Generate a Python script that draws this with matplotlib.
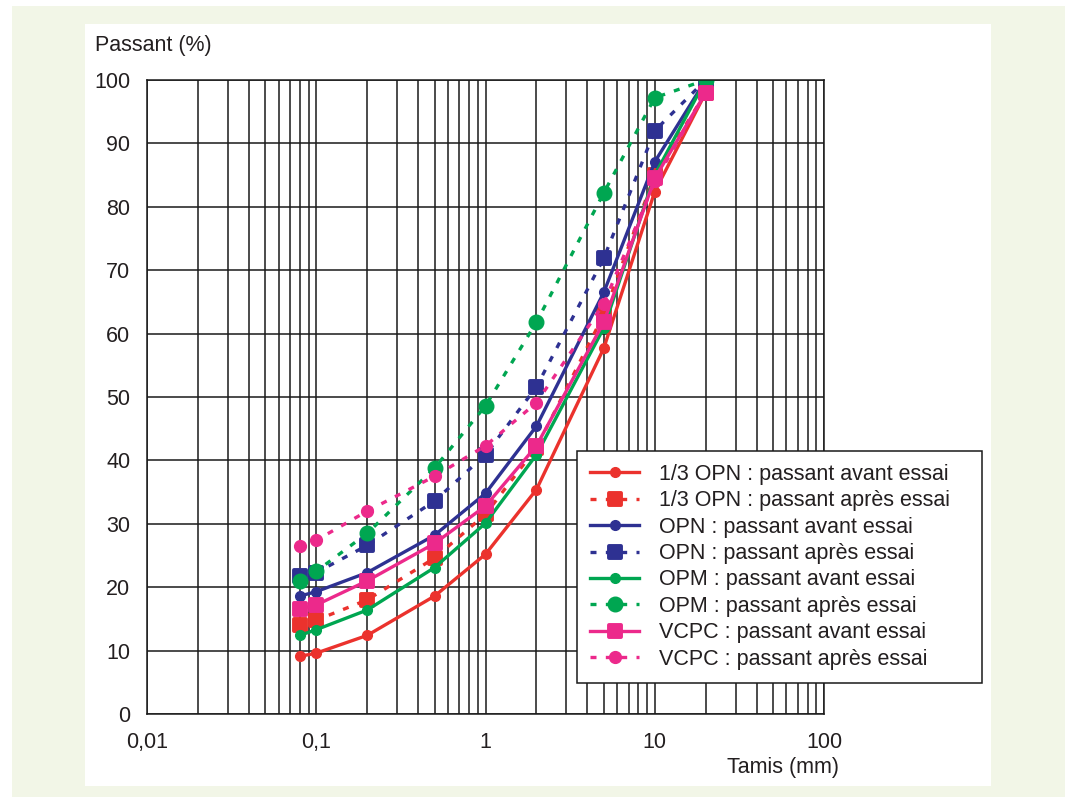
import matplotlib
matplotlib.use("Agg")
import matplotlib.pyplot as plt
from matplotlib.markers import MarkerStyle
from matplotlib.patches import Rectangle
from matplotlib.ticker import FixedLocator, LogLocator, NullFormatter

plt.rcParams["font.family"] = ["Liberation Sans", "DejaVu Sans"]
TXT = "#231f20"
FS = 15.5

# sieve sizes (mm)
tamis = [0.08, 0.1, 0.2, 0.5, 1, 2, 5, 10, 20]

opn13_avant = [9.1, 9.6, 12.4, 18.6, 25.2, 35.4, 57.7, 82.4, 98.0]
opn13_apres = [14.0, 14.8, 18.0, 24.6, 31.5, 42.0, 63.0, 85.0, 98.0]
opn_avant = [18.6, 19.3, 22.3, 28.2, 34.8, 45.4, 66.5, 87.1, 100.0]
opn_apres = [21.8, 22.3, 26.6, 33.6, 40.9, 51.6, 71.9, 92.0, 100.0]
opm_avant = [12.4, 13.3, 16.4, 23.1, 30.1, 40.9, 60.9, 85.0, 100.0]
opm_apres = [21.0, 22.5, 28.5, 38.8, 48.6, 61.8, 82.2, 97.2, 100.0]
vcpc_avant = [16.6, 17.2, 21.0, 26.9, 32.8, 42.3, 61.8, 84.5, 98.0]
vcpc_apres = [26.5, 27.4, 32.0, 37.5, 42.3, 49.1, 64.7, 84.0, 98.0]

labels = [
    "1/3 OPN : passant avant essai",
    "1/3 OPN : passant après essai",
    "OPN : passant avant essai",
    "OPN : passant après essai",
    "OPM : passant avant essai",
    "OPM : passant après essai",
    "VCPC : passant avant essai",
    "VCPC : passant après essai",
]
yticks = [0, 10, 20, 30, 40, 50, 60, 70, 80, 90, 100]
xticks = [0.01, 0.1, 1, 10, 100]
xticklabels = ["0,01", "0,1", "1", "10", "100"]

RED, BLUE, GREEN, PINK = "#eb322d", "#2e3192", "#00a651", "#ec298b"

sq = MarkerStyle("s", joinstyle="round")
series = [
    (opn13_avant, RED, "-", "o", 7),
    (opn13_apres, RED, "--", sq, 8.5),
    (opn_avant, BLUE, "-", "o", 7),
    (opn_apres, BLUE, "--", sq, 8.5),
    (opm_avant, GREEN, "-", "o", 7),
    (opm_apres, GREEN, "--", "o", 10.5),
    (vcpc_avant, PINK, "-", sq, 8.5),
    (vcpc_apres, PINK, "--", "o", 8.5),
]

fig = plt.figure(figsize=(10.65, 7.97), dpi=100)
fig.patches.append(Rectangle((12 / 1065, 0), 1, 1 - 6 / 797, transform=fig.transFigure,
                             facecolor="#f2f6e7", edgecolor="none", zorder=-10))
fig.patches.append(Rectangle((85 / 1065, 1 - 786 / 797), (991 - 85) / 1065, (786 - 24) / 797,
                             transform=fig.transFigure, facecolor="white",
                             edgecolor="none", zorder=-9))

# axes box in pixels: x 147..824, y 80..714
ax = fig.add_axes([147 / 1065, 1 - 714 / 797, (824 - 147) / 1065, (714 - 80) / 797])
ax.set_facecolor("white")

for (vals, col, ls, mk, ms), lab in zip(series, labels):
    kw = dict(color=col, lw=2.4, marker=mk, ms=ms, mfc=col, mec=col, label=lab)
    if mk is sq:
        kw["mew"] = 2.8
    if ls == "--":
        ax.plot(tamis, vals, linestyle=(0, (1.8, 2.8)), dash_capstyle="butt", **kw)
    else:
        ax.plot(tamis, vals, linestyle="-", **kw)

ax.set_xscale("log")
ax.set_xlim(0.01, 100)
ax.set_ylim(0, 100)
ax.xaxis.set_major_locator(FixedLocator(xticks))
ax.set_xticklabels(xticklabels)
ax.xaxis.set_minor_locator(LogLocator(base=10, subs=range(2, 10), numticks=20))
ax.xaxis.set_minor_formatter(NullFormatter())
ax.set_yticks(yticks)
ax.set_yticklabels([str(v) for v in yticks])
ax.grid(True, which="both", axis="x", color="#1a1a1a", lw=1.1)
ax.grid(True, which="major", axis="y", color="#1a1a1a", lw=1.1)
ax.set_axisbelow(True)
ax.tick_params(axis="both", which="both", length=0, labelsize=FS, colors=TXT)
ax.tick_params(axis="y", pad=12)
ax.tick_params(axis="x", pad=13)
for s in ax.spines.values():
    s.set_color("#1a1a1a")
    s.set_linewidth(1.1)

fig.text(95 / 1065, 1 - 45 / 797, "Passant (%)", fontsize=FS, color=TXT,
         ha="left", va="center")
fig.text(839 / 1065, 1 - 768 / 797, "Tamis (mm)", fontsize=FS, color=TXT,
         ha="right", va="center")

# legend frame in pixels: x 577..982, y 451..686
lx0, lx1, ly0, ly1 = 577, 982, 451, 686
leg = ax.legend(loc="upper left",
                bbox_to_anchor=((lx0 - 147) / 677, (714 - ly1) / 634,
                                (lx1 - lx0) / 677, (ly1 - ly0) / 634),
                mode="expand", fontsize=FS, frameon=True, fancybox=False, framealpha=1,
                edgecolor="#1a1a1a", handlelength=2.3, handletextpad=0.9,
                labelspacing=0.25, borderpad=0.6, borderaxespad=0)
leg.get_frame().set_linewidth(1.1)
for t in leg.get_texts():
    t.set_color(TXT)
leg.set_clip_on(False)

fig.savefig("out.png", dpi=100)
